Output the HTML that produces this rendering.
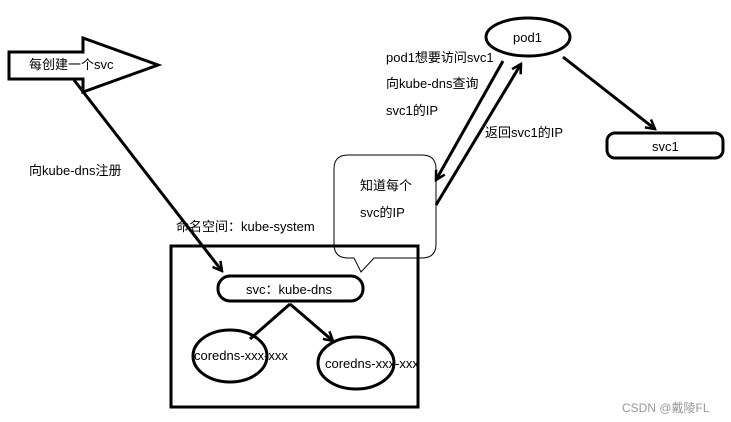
<!DOCTYPE html>
<html><head><meta charset="utf-8"><style>
html,body{margin:0;padding:0;background:#fff;}
svg{display:block;}
text{font-family:"Liberation Sans","Noto Sans CJK SC",sans-serif;font-size:13px;fill:#000;}
</style></head><body>
<svg width="731" height="422" viewBox="0 0 731 422" xmlns="http://www.w3.org/2000/svg">
<defs>
<marker id="a" markerWidth="12" markerHeight="12" refX="10" refY="6" orient="auto" markerUnits="userSpaceOnUse">
<path d="M1,1 L10,6 L1,11" fill="none" stroke="#000" stroke-width="2.5"/>
</marker>
</defs>
<!-- callout -->
<path d="M348,155 H422 Q436,155 436,169 V244 Q436,258 422,258 H374 L361,272 L354,258 H348 Q334,258 334,244 V169 Q334,155 348,155 Z" fill="#fff" stroke="#000" stroke-width="1"/>
<g fill="none" stroke="#000" stroke-width="3">
<path d="M9,52 H83 V38 L158,65 L83,92 V79 H9 Z" fill="#fff"/>
<line x1="74" y1="80" x2="222" y2="271" marker-end="url(#a)"/>
<rect x="171" y="246" width="247" height="161"/>
<rect x="218" y="276" width="145" height="25" rx="12" fill="#fff"/>
<line x1="290" y1="304" x2="250" y2="339"/>
<line x1="290" y1="304" x2="333" y2="341" marker-end="url(#a)"/>
<ellipse cx="230" cy="356" rx="37" ry="26"/>
<ellipse cx="356" cy="363" rx="38" ry="26"/>
<ellipse cx="528" cy="37" rx="42" ry="19" fill="#fff"/>
<line x1="503" y1="61" x2="436" y2="180" marker-end="url(#a)"/>
<line x1="436" y1="205" x2="521" y2="64" marker-end="url(#a)"/>
<line x1="563" y1="57" x2="655" y2="129" marker-end="url(#a)"/>
<rect x="607" y="133" width="116" height="25" rx="8"/>
</g>
<text x="29" y="69">每创建一个svc</text>
<text x="29" y="175">向kube-dns注册</text>
<text x="176" y="231">命名空间：kube-system</text>
<text x="246" y="294">svc：kube-dns</text>
<text x="194" y="360">coredns-xxx-xxx</text>
<text x="325" y="368">coredns-xxx-xxx</text>
<text x="360" y="190">知道每个</text>
<text x="360" y="217">svc的IP</text>
<text x="513" y="42">pod1</text>
<text x="386" y="62">pod1想要访问svc1</text>
<text x="386" y="88">向kube-dns查询</text>
<text x="386" y="115">svc1的IP</text>
<text x="485" y="137">返回svc1的IP</text>
<text x="652" y="151">svc1</text>
<text x="622" y="412" style="fill:#999;font-size:12px">CSDN @戴陵FL</text>
</svg>
</body></html>
